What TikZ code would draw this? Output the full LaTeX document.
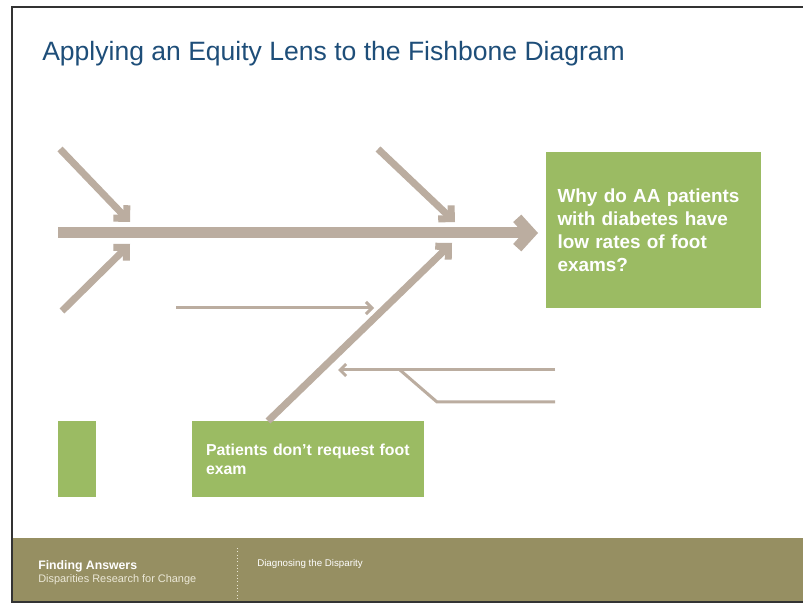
\documentclass[tikz,border=0pt]{standalone}
\usepackage{fontspec}
\setmainfont{Liberation Sans}
\usetikzlibrary{arrows.meta}

\definecolor{bonetan}{RGB}{187,173,160}
\definecolor{boxgreen}{RGB}{155,187,99}
\definecolor{footolive}{RGB}{150,143,98}
\definecolor{titleblue}{RGB}{30,78,121}
\definecolor{framegray}{RGB}{51,51,51}
\definecolor{footpale}{RGB}{235,232,215}

\tikzset{
  spine/.style={draw=bonetan, line width=8.25pt, -{Straight Barb[length=10pt, width=22pt]}},
  bone/.style={draw=bonetan, line width=5.25pt, -{Straight Barb[length=7pt, width=14pt]}},
  twig/.style={draw=bonetan, line width=2.25pt},
  greenbox/.style={fill=boxgreen, text=white, font=\bfseries, align=left, inner sep=0pt}
}

\begin{document}
\begin{tikzpicture}[x=0.75pt, y=-0.75pt]
        \useasboundingbox (0,0) rectangle (803,605);
        \fill[white] (0,0) rectangle (803,605);

        % footer band and frame
        \fill[footolive] (12,538) rectangle (803,602);
        \draw[framegray, line width=1.9pt] (803,7) -- (12,7) -- (12,602) -- (803,602);

        \node[anchor=base west, text=titleblue, font=\fontsize{19.9}{24}\selectfont, inner sep=0pt] (title) at (42,61) {Applying an Equity Lens to the Fishbone Diagram};

        % fish head and boxes
        \node[greenbox, minimum width=161.25pt, minimum height=117pt, text width=152pt, font=\fontsize{14.2}{17.25}\selectfont\bfseries] (head) at (653.5,230) {\hspace*{4pt}Why do AA patients\\\hspace*{4pt}with diabetes have\\\hspace*{4pt}low rates of foot\\\hspace*{4pt}exams?};
        \node[greenbox, minimum width=174pt, minimum height=57pt, text width=153pt, font=\fontsize{11.9}{14.25}\selectfont\bfseries] (cause) at (308,459) {Patients don't request foot\\exam};
        \node[greenbox, minimum width=28.5pt, minimum height=57pt] (blank) at (77,459) {};

        % bones
        \coordinate (tail) at (58,233);
        \coordinate (mouth) at (538,233);
        \coordinate (ul-s) at (60,149);
        \coordinate (ul-e) at (130,222);
        \coordinate (ll-s) at (62,311);
        \coordinate (ll-e) at (130,244);
        \coordinate (ur-s) at (378,149);
        \coordinate (ur-e) at (455,222);
        \coordinate (lr-s) at (268,421);
        \coordinate (lr-e) at (452,243);
        \coordinate (t1-s) at (176,308);
        \coordinate (t1-e) at (374,308);
        \coordinate (t2-s) at (555,370);
        \coordinate (t2-e) at (338,370);
        \coordinate (fork) at (400,370);
        \coordinate (knee) at (437,402);
        \coordinate (t3-e) at (555,402);

        \draw[spine] (tail) -- (mouth);
        \draw[bone] (ul-s) -- (ul-e);
        \draw[bone] (ll-s) -- (ll-e);
        \draw[bone] (ur-s) -- (ur-e);
        \draw[bone] (lr-s) -- (lr-e);
        \draw[twig, -{Straight Barb[length=4.5pt, width=9pt]}] (t1-s) -- (t1-e);
        \draw[twig, -{Straight Barb[length=4.5pt, width=9pt]}] (t2-s) -- (t2-e);
        \draw[twig] (fork) -- (knee) -- (t3-e);

        % footer texts
        \node[anchor=base west, inner sep=0pt, text=white, font=\fontsize{9.2}{10}\selectfont\bfseries] (brand) at (38,569) {Finding Answers};
        \node[anchor=base west, inner sep=0pt, text=footpale, font=\fontsize{8.2}{10}\selectfont] (tagline) at (38,582) {Disparities Research for Change};
        \node[anchor=base west, inner sep=0pt, text=white, font=\fontsize{7.3}{9}\selectfont] (topic) at (257,566) {Diagnosing the Disparity};
        \coordinate (sep-top) at (237,548);
        \coordinate (sep-bot) at (237,600);
        \draw[footpale, line width=0.5pt, dotted] (sep-top) -- (sep-bot);
\end{tikzpicture}
\end{document}
